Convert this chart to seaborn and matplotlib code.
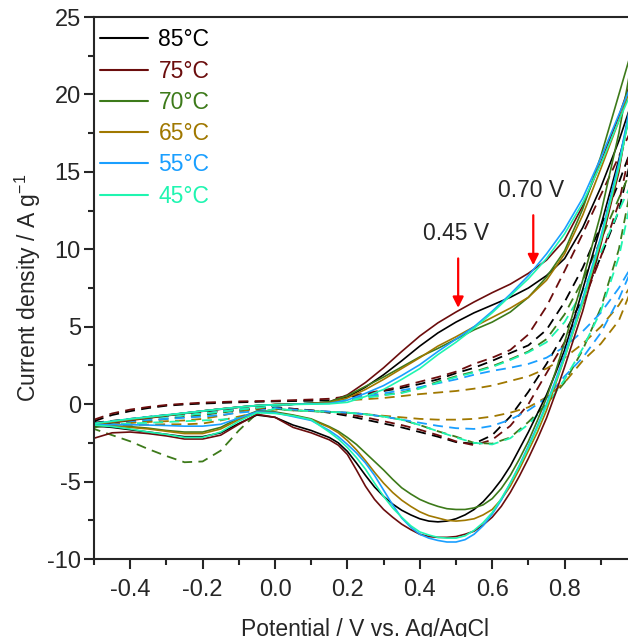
import matplotlib
matplotlib.use("Agg")
import matplotlib.pyplot as plt
from matplotlib.lines import Line2D
from matplotlib.ticker import MultipleLocator
import seaborn as sns

# -------------------------
# Data
# -------------------------
temps = ["85°C", "75°C", "70°C", "65°C", "55°C", "45°C"]
colors = ["#000000", "#6B0D0D", "#3D7A1A", "#A07800", "#1A9FFF", "#1FF5B0"]

# potential grid, forward (anodic) scan and reverse scan
v_fwd = [-0.5, -0.45, -0.4, -0.35, -0.3, -0.25, -0.2, -0.15, -0.1, -0.05, 0.0,
         0.05, 0.1, 0.15, 0.2, 0.25, 0.3, 0.35, 0.4, 0.45, 0.5, 0.55, 0.6, 0.65,
         0.7, 0.75, 0.8, 0.85, 0.9, 0.95, 1.0]
v_rev = v_fwd[::-1]
# finer grid for the reduction peak of the solid curves
v_rev_solid = [1.0, 0.95, 0.9, 0.85, 0.8,
               0.775, 0.75, 0.725, 0.7, 0.675, 0.65, 0.625, 0.6, 0.575, 0.55,
               0.525, 0.5, 0.475, 0.45, 0.425, 0.4, 0.375, 0.35, 0.325, 0.3,
               0.275, 0.25, 0.225, 0.2, 0.175, 0.15,
               0.1, 0.05, 0.0, -0.05, -0.1, -0.15, -0.2, -0.25, -0.3, -0.35,
               -0.4, -0.45, -0.5]

# solid curves: forward branch
solid_fwd = [
    [-1.3, -1.15, -1.0, -0.86, -0.72, -0.58, -0.44, -0.31, -0.19, -0.09, -0.03, 0.0, 0.03, 0.1, 0.45, 1.1, 1.9, 2.8, 3.75, 4.6, 5.3, 5.9, 6.4, 6.9, 7.5, 8.3, 9.4, 11.4, 14.0, 17.0, 20.5],
    [-1.35, -1.2, -1.05, -0.9, -0.75, -0.6, -0.46, -0.33, -0.2, -0.1, -0.03, 0.0, 0.04, 0.15, 0.6, 1.4, 2.35, 3.4, 4.4, 5.25, 5.95, 6.6, 7.2, 7.75, 8.45, 9.3, 10.6, 12.8, 15.6, 18.6, 22.0],
    [-1.3, -1.15, -1.0, -0.86, -0.72, -0.58, -0.44, -0.31, -0.19, -0.09, -0.03, 0.0, 0.04, 0.15, 0.55, 1.15, 1.75, 2.4, 3.05, 3.6, 4.2, 4.8, 5.3, 5.95, 6.9, 8.2, 9.9, 12.6, 16.0, 20.0, 24.0],
    [-1.3, -1.15, -1.0, -0.86, -0.72, -0.58, -0.44, -0.31, -0.19, -0.09, -0.03, 0.0, 0.03, 0.1, 0.4, 0.95, 1.6, 2.3, 3.0, 3.75, 4.35, 5.0, 5.6, 6.2, 6.9, 8.0, 9.7, 12.2, 15.2, 18.3, 21.5],
    [-1.25, -1.1, -0.95, -0.82, -0.7, -0.57, -0.44, -0.31, -0.19, -0.09, -0.04, -0.01, 0.02, 0.05, 0.26, 0.7, 1.2, 1.85, 2.55, 3.4, 4.2, 5.0, 6.0, 7.1, 8.3, 9.7, 11.3, 13.3, 15.9, 18.7, 21.5],
    [-1.25, -1.1, -0.95, -0.82, -0.7, -0.57, -0.44, -0.31, -0.19, -0.09, -0.04, -0.02, 0.0, 0.02, 0.12, 0.5, 0.95, 1.6, 2.3, 3.2, 4.0, 4.9, 5.9, 7.0, 8.1, 9.4, 11.0, 13.0, 15.5, 18.3, 21.0],
]

# solid curves: reverse branch (on v_rev_solid)
solid_rev = [
    [20.5, 15.8, 11.5, 7.4, 3.5,
     2.0, 0.6, -0.6, -1.8, -2.9, -4.0, -4.9, -5.65, -6.3, -6.8, -7.15, -7.4, -7.55, -7.6, -7.55, -7.4, -7.15, -6.85, -6.45, -5.95, -5.35, -4.6, -3.8, -3.05, -2.5, -2.15,
     -1.7, -1.35, -0.85, -0.7, -1.25, -1.85, -2.1, -2.1, -1.95, -1.8, -1.65, -1.5, -1.4],
    [22.0, 15.0, 10.3, 6.0, 2.4,
     0.7, -0.9, -2.25, -3.5, -4.65, -5.7, -6.6, -7.3, -7.8, -8.2, -8.4, -8.55, -8.6, -8.6, -8.55, -8.4, -8.1, -7.75, -7.3, -6.8, -6.15, -5.3, -4.25, -3.25, -2.65, -2.3,
     -1.85, -1.5, -0.85, -0.65, -1.3, -2.0, -2.25, -2.25, -2.05, -1.9, -1.8, -1.85, -2.2],
    [24.0, 17.5, 12.3, 8.0, 4.0,
     2.1, 0.4, -1.05, -2.4, -3.55, -4.6, -5.45, -6.1, -6.5, -6.7, -6.8, -6.8, -6.75, -6.6, -6.4, -6.15, -5.8, -5.4, -4.85, -4.25, -3.7, -3.15, -2.6, -2.15, -1.75, -1.45,
     -0.95, -0.7, -0.5, -0.45, -0.9, -1.5, -1.8, -1.8, -1.7, -1.55, -1.45, -1.4, -1.4],
    [21.5, 15.2, 10.5, 6.5, 3.0,
     1.3, -0.4, -1.8, -3.0, -4.2, -5.3, -6.15, -6.8, -7.15, -7.4, -7.5, -7.55, -7.5, -7.35, -7.2, -6.95, -6.6, -6.2, -5.7, -5.1, -4.4, -3.65, -2.95, -2.35, -1.85, -1.5,
     -1.0, -0.75, -0.55, -0.5, -1.0, -1.6, -1.9, -1.9, -1.75, -1.6, -1.5, -1.4, -1.35],
    [21.5, 15.6, 10.8, 6.8, 3.2,
     1.55, 0.0, -1.4, -2.7, -3.95, -5.1, -6.2, -7.1, -7.85, -8.4, -8.75, -8.9, -8.9, -8.8, -8.65, -8.4, -7.95, -7.35, -6.5, -5.55, -4.6, -3.8, -3.15, -2.6, -2.1, -1.7,
     -1.05, -0.8, -0.55, -0.5, -0.9, -1.3, -1.42, -1.42, -1.38, -1.35, -1.33, -1.32, -1.35],
    [21.0, 15.3, 10.6, 6.6, 3.0,
     1.4, -0.1, -1.5, -2.8, -4.0, -5.1, -6.1, -7.0, -7.65, -8.15, -8.5, -8.65, -8.65, -8.6, -8.45, -8.25, -7.85, -7.3, -6.7, -5.95, -5.1, -4.2, -3.45, -2.8, -2.25, -1.8,
     -1.0, -0.75, -0.6, -0.55, -1.1, -1.8, -2.15, -2.15, -1.95, -1.8, -1.6, -1.45, -1.35],
]

# dashed curves: forward branch
dash_fwd = [
    [-1.1, -0.7, -0.45, -0.25, -0.1, -0.02, 0.04, 0.08, 0.12, 0.15, 0.18, 0.2, 0.22, 0.25, 0.45, 0.6, 0.85, 1.05, 1.3, 1.6, 2.0, 2.35, 2.8, 3.3, 3.8, 4.8, 6.6, 8.8, 11.5, 14.3, 17.5],
    [-1.0, -0.6, -0.35, -0.18, -0.05, 0.03, 0.1, 0.14, 0.18, 0.2, 0.22, 0.26, 0.3, 0.35, 0.5, 0.7, 0.9, 1.15, 1.45, 1.75, 2.1, 2.6, 3.0, 3.5, 4.5, 6.3, 8.6, 11.0, 13.5, 16.0, 18.5],
    [-1.5, -1.35, -1.2, -1.07, -0.95, -0.82, -0.7, -0.55, -0.4, -0.25, -0.1, 0.0, 0.05, 0.1, 0.3, 0.45, 0.6, 0.75, 1.05, 1.45, 1.8, 2.1, 2.45, 2.9, 3.4, 4.2, 5.8, 8.0, 10.6, 13.3, 16.0],
    [-1.4, -1.3, -1.2, -1.15, -1.1, -1.05, -0.95, -0.75, -0.5, -0.3, -0.1, 0.0, 0.05, 0.1, 0.25, 0.32, 0.4, 0.52, 0.65, 0.75, 0.85, 1.0, 1.2, 1.5, 1.8, 2.3, 3.0, 3.9, 5.0, 6.4, 8.3],
    [-1.3, -1.15, -1.0, -0.9, -0.8, -0.7, -0.6, -0.48, -0.35, -0.22, -0.1, 0.0, 0.05, 0.1, 0.3, 0.5, 0.7, 0.9, 1.1, 1.35, 1.6, 1.9, 2.15, 2.35, 2.6, 3.0, 3.7, 4.7, 5.9, 7.5, 9.5],
    [-1.3, -1.15, -1.0, -0.9, -0.8, -0.7, -0.6, -0.48, -0.35, -0.22, -0.1, 0.0, 0.05, 0.1, 0.28, 0.42, 0.57, 0.72, 1.0, 1.4, 1.75, 2.05, 2.4, 2.85, 3.35, 4.0, 5.3, 7.3, 9.8, 12.5, 15.0],
]

# dashed curves: reverse branch
dash_rev = [
    [17.5, 12.5, 9.5, 6.8, 4.6, 2.6, 0.8, -0.8, -2.0, -2.55, -2.45, -2.1, -1.8, -1.5, -1.25, -1.0, -0.75, -0.55, -0.4, -0.3, -0.2, -0.28, -0.35, -0.43, -0.5, -0.6, -0.7, -0.82, -0.95, -1.08, -1.2],
    [18.5, 13.0, 9.5, 6.5, 4.0, 2.0, 0.0, -1.4, -2.3, -2.65, -2.4, -2.0, -1.65, -1.35, -1.1, -0.85, -0.65, -0.5, -0.4, -0.3, -0.25, -0.32, -0.4, -0.48, -0.55, -0.65, -0.75, -0.88, -1.0, -1.15, -1.3],
    [16.0, 10.0, 6.2, 3.5, 1.4, 0.0, -1.15, -2.15, -2.55, -2.5, -2.1, -1.75, -1.35, -1.0, -0.8, -0.65, -0.55, -0.5, -0.45, -0.4, -0.3, -0.6, -1.7, -3.0, -3.7, -3.75, -3.35, -2.9, -2.4, -2.0, -1.6],
    [8.3, 5.4, 3.9, 2.8, 1.4, 0.45, -0.2, -0.55, -0.8, -0.95, -1.0, -1.0, -0.95, -0.85, -0.75, -0.65, -0.55, -0.5, -0.45, -0.4, -0.35, -0.55, -0.8, -1.05, -1.25, -1.3, -1.3, -1.32, -1.35, -1.38, -1.4],
    [9.5, 6.8, 4.6, 3.0, 1.8, 0.4, -0.4, -1.0, -1.4, -1.6, -1.55, -1.4, -1.2, -1.0, -0.8, -0.65, -0.55, -0.48, -0.42, -0.35, -0.25, -0.45, -0.55, -0.7, -0.8, -0.88, -0.95, -1.02, -1.1, -1.2, -1.3],
    [15.0, 9.5, 6.0, 3.6, 1.6, -0.1, -1.3, -2.2, -2.6, -2.5, -2.15, -1.75, -1.35, -1.0, -0.8, -0.65, -0.55, -0.5, -0.45, -0.4, -0.3, -0.6, -0.9, -1.0, -1.05, -1.1, -1.15, -1.2, -1.25, -1.28, -1.3],
]

# arrows: (potential, tip current, tail current), labels
arrow_v = [0.506, 0.7135]
arrow_tip = [6.22, 8.97]
arrow_tail = [9.41, 12.2]
arrow_labels = ["0.45 V", "0.70 V"]

# -------------------------
# Style
# -------------------------
sns.set_style("ticks")
plt.rcParams["font.family"] = ["Liberation Sans", "DejaVu Sans"]
plt.rcParams["mathtext.fontset"] = "custom"
plt.rcParams["mathtext.rm"] = "Liberation Sans"
plt.rcParams["mathtext.it"] = "Liberation Sans"
plt.rcParams["axes.unicode_minus"] = False

fig = plt.figure(figsize=(6.28, 6.37), dpi=100)
# right part of the frame (up to 1.0 V) is cropped off like in the reference
ax = fig.add_axes([0.1497, 0.1224, 0.8646, 0.8509])

# -------------------------
# Curves
# -------------------------
for i, c in enumerate(colors):
    sns.lineplot(x=v_fwd + v_rev, y=dash_fwd[i] + dash_rev[i], sort=False,
                 estimator=None, color=c, lw=1.3, linestyle=(0, (5.5, 3.5)),
                 ax=ax, legend=False)
for i, c in enumerate(colors):
    sns.lineplot(x=v_fwd + v_rev_solid, y=solid_fwd[i] + solid_rev[i], sort=False,
                 estimator=None, color=c, lw=1.2, ax=ax, legend=False)

# arrows + labels
for v, tip, tail, lab in zip(arrow_v, arrow_tip, arrow_tail, arrow_labels):
    ax.annotate("", xy=(v, tip), xytext=(v, tail),
                arrowprops=dict(arrowstyle="-|>", color="red", lw=1.6,
                                mutation_scale=16, shrinkA=0, shrinkB=0))
    ax.text(v - 0.007, tail + 0.85, lab, ha="center", va="bottom", fontsize=16.5)

# -------------------------
# Axes
# -------------------------
ax.set_xlim(-0.5, 1.0)
ax.set_ylim(-10, 25)
ax.xaxis.set_minor_locator(MultipleLocator(0.1))
ax.yaxis.set_major_locator(MultipleLocator(5))
ax.yaxis.set_minor_locator(MultipleLocator(2.5))
xt = [-0.4, -0.2, 0.0, 0.2, 0.4, 0.6, 0.8]
ax.set_xticks(xt)
ax.set_xticklabels([f"{t:.1f}" for t in xt])
ax.tick_params(which="major", direction="out", length=7, width=1.5, labelsize=17)
ax.tick_params(which="minor", direction="out", length=4, width=1.5)
ax.tick_params(axis="x", which="major", pad=7.5)
ax.tick_params(axis="y", which="major", pad=2.5)
for s in ax.spines.values():
    s.set_linewidth(1.5)

ax.set_xlabel("Potential / V vs. Ag/AgCl", fontsize=16.5, labelpad=12)
ax.set_ylabel("Current density / A g$^{-1}$", fontsize=16.5, labelpad=3)

handles = [Line2D([], [], color=c, lw=1.5) for c in colors]
ax.legend(handles, temps, loc="upper left", bbox_to_anchor=(0.011, 0.979),
          frameon=False, fontsize=16.5, handlelength=2.1, handletextpad=0.45,
          labelspacing=0.36, borderaxespad=0, borderpad=0, labelcolor="linecolor")

plt.savefig("out.png", dpi=100)
plt.close()
